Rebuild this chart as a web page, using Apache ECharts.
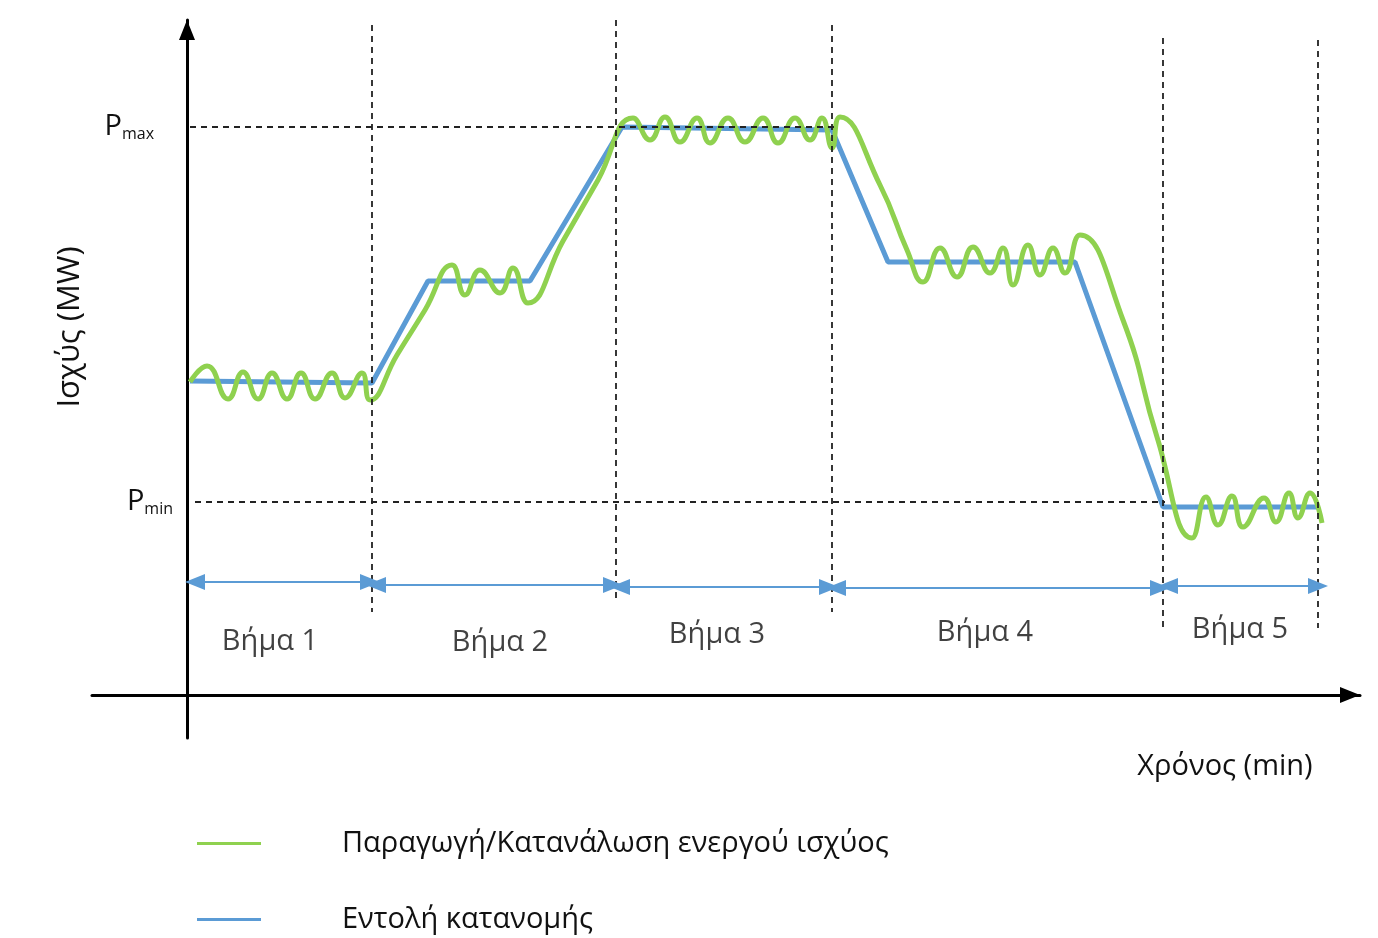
<!DOCTYPE html>
<html><head><meta charset="utf-8">
<script src="https://cdn.jsdelivr.net/npm/echarts@6/dist/echarts.min.js"></script>
<style>html,body{margin:0;padding:0;background:#fff}#c{width:1378px;height:938px}</style>
</head><body><div id="c"></div>
<script>
// Dispatch command (blue)
const dispatchTime  = [0.3, 18.5, 24.1, 34.3, 43.5, 64.5, 70.1, 88.8, 97.6, 113.1];
const dispatchPower = [31.4, 31.2, 41.4, 41.4, 56.8, 56.5, 43.3, 43.3, 18.8, 18.8];
// Active power production / consumption (green)
const responseTime  = [0.3, 2.0, 4.1, 5.6, 7.1, 8.5, 10.0, 11.4, 12.8, 14.5, 15.8, 17.5, 18.3,
  21.0, 23.8, 26.5, 27.8, 29.3, 31.3, 32.6, 34.1,
  37.6, 41.1, 44.6, 46.3, 47.8, 49.3, 51.0, 52.3, 54.1, 55.8, 57.6, 59.1, 60.8, 62.3, 63.5, 64.5, 65.3,
  69.3, 72.0, 73.6, 75.3, 77.0, 78.6, 80.3, 81.6, 82.6, 84.1, 85.3, 86.6, 87.8, 89.3,
  93.6, 97.0, 100.5, 101.9, 103.1, 104.5, 105.6, 107.7, 108.9, 110.2, 111.1, 112.3, 113.5];
const responsePower = [31.3, 32.9, 29.6, 32.3, 29.6, 32.2, 29.6, 32.2, 29.6, 32.2, 29.7, 32.2, 29.5,
  34.0, 38.5, 43.0, 40.0, 42.5, 40.2, 42.7, 39.2,
  45.4, 51.5, 57.7, 55.5, 57.8, 55.3, 57.7, 55.2, 57.7, 55.3, 57.7, 55.2, 57.7, 55.5, 57.7, 54.7, 57.8,
  51.0, 44.5, 41.3, 44.7, 41.8, 44.8, 42.2, 44.7, 41.0, 45.0, 42.0, 44.7, 42.2, 46.0,
  37.5, 25.8, 15.7, 19.8, 17.0, 19.9, 16.8, 19.7, 17.3, 20.2, 17.7, 20.2, 17.2];
// Steps
const stepNames  = ['Βήμα 1', 'Βήμα 2', 'Βήμα 3', 'Βήμα 4', 'Βήμα 5'];
const stepStart  = [0.8, 18.9, 43.3, 64.9, 98.1];
const stepEnd    = [18.3, 42.6, 64.2, 97.3, 113.1];
const stepLevel  = [11.3, 11.0, 10.8, 10.7, 10.9];
const stepLabelX = [8.3, 31.3, 53.0, 79.8, 105.3];
const stepLabelY = [5.3, 5.2, 6.0, 6.2, 6.5];
// Step boundaries (vertical dashed lines)
const boundaryTime   = [18.5, 42.9, 64.5, 97.6, 113.1];
const boundaryTop    = [67.0, 67.5, 67.0, 65.7, 65.5];
const boundaryBottom = [8.3, 9.7, 8.3, 6.7, 6.7];
// Limits
const pMax = 56.8, pMaxEnd = 64.8;
const pMin = 19.3, pMinEnd = 97.8;

const FONT = 'Open Sans';
const GREEN = '#8fd14f', BLUE = '#5b9bd5', DASH = '#222';
const GREEN_NAME = 'Παραγωγή/Κατανάλωση ενεργού ισχύος';
const BLUE_NAME = 'Εντολή κατανομής';

const zip = (a, b) => a.map((v, i) => [v, b[i]]);

const dashedLines = [];
boundaryTime.forEach((t, i) => dashedLines.push([{coord: [t, boundaryTop[i]]}, {coord: [t, boundaryBottom[i]]}]));

const limitLines = [
  [{coord: [0.3, pMax], label: {formatter: '{p|P}{s|max}', distance: 36}}, {coord: [pMaxEnd, pMax]}],
  [{coord: [0.8, pMin], label: {formatter: '{p|P}{s|min}', distance: 22}}, {coord: [pMinEnd, pMin]}]
];

const arrowLines = stepStart.map((s, i) => [{coord: [s, stepLevel[i]]}, {coord: [stepEnd[i], stepLevel[i]]}]);

const legendBase = {
  orient: 'vertical', left: 192,
  icon: 'rect', itemWidth: 64, itemHeight: 3,
  textStyle: {fontFamily: FONT, fontSize: 29, color: '#111', padding: [0, 0, 0, 76]},
  selectedMode: false
};

const chart = echarts.init(document.getElementById('c'), null, {renderer: 'canvas'});
chart.setOption({
  animation: false,
  backgroundColor: '#fff',
  textStyle: {fontFamily: FONT},
  grid: {left: 92, right: 18, top: 20, bottom: 200, containLabel: false},
  xAxis: {
    type: 'value', min: -9.5, max: 117.3,
    axisLine: {onZero: true, lineStyle: {color: '#000', width: 3}, symbol: ['none', 'triangle'], symbolSize: [16, 20], symbolOffset: [0, -10]},
    axisTick: {show: false}, axisLabel: {show: false}, splitLine: {show: false}
  },
  yAxis: {
    type: 'value', min: -4.3, max: 67.5,
    axisLine: {onZero: true, lineStyle: {color: '#000', width: 3}, symbol: ['none', 'triangle'], symbolSize: [16, 20], symbolOffset: [0, -10]},
    axisTick: {show: false}, axisLabel: {show: false}, splitLine: {show: false}
  },
  legend: [
    Object.assign({}, legendBase, {data: [GREEN_NAME], top: 824}),
    Object.assign({}, legendBase, {data: [BLUE_NAME], top: 900})
  ],
  graphic: [
    {type: 'text', x: 70, y: 327, rotation: Math.PI / 2,
      style: {text: 'Ισχύς (MW)', font: '31px "Open Sans"', fill: '#111', align: 'center', verticalAlign: 'middle'}},
    {type: 'text', x: 1225, y: 767,
      style: {text: 'Χρόνος (min)', font: '29px "Open Sans"', fill: '#111', align: 'center', verticalAlign: 'middle'}}
  ],
  series: [
    {
      name: BLUE_NAME, type: 'line', data: zip(dispatchTime, dispatchPower),
      showSymbol: false, symbol: 'none', lineStyle: {color: BLUE, width: 5}, itemStyle: {color: BLUE}, z: 3,
      markLine: {
        silent: true, symbol: 'none',
        lineStyle: {color: DASH, width: 1.8, type: [6, 5]},
        label: {show: false},
        data: dashedLines
      }
    },
    {
      name: GREEN_NAME, type: 'line', data: zip(responseTime, responsePower),
      smooth: 0.5, showSymbol: false, symbol: 'none', lineStyle: {color: GREEN, width: 5}, itemStyle: {color: GREEN}, z: 4
    },
    {
      name: 'limits', type: 'line', data: [], z: 2,
      markLine: {
        silent: true, symbol: 'none',
        lineStyle: {color: DASH, width: 1.8, type: [6, 5]},
        label: {show: true, position: 'start', color: '#111',
          rich: {p: {fontFamily: FONT, fontSize: 29, color: '#111'}, s: {fontFamily: FONT, fontSize: 16, color: '#111', padding: [14, 0, 0, 0]}}},
        data: limitLines
      }
    },
    {
      name: 'steps', type: 'line', data: [], z: 2,
      markLine: {
        silent: true, symbol: ['triangle', 'triangle'], symbolSize: [16, 20],
        lineStyle: {color: BLUE, width: 2, type: 'solid'},
        itemStyle: {color: BLUE},
        label: {show: false},
        data: arrowLines
      }
    },
    {
      name: 'stepLabels', type: 'scatter', data: zip(stepLabelX, stepLabelY).map((p, i) => ({value: p, name: stepNames[i]})),
      symbolSize: 0, silent: true,
      label: {show: true, position: 'inside', formatter: p => p.name, fontFamily: FONT, fontSize: 29, color: '#111'}
    }
  ]
});
</script></body></html>
